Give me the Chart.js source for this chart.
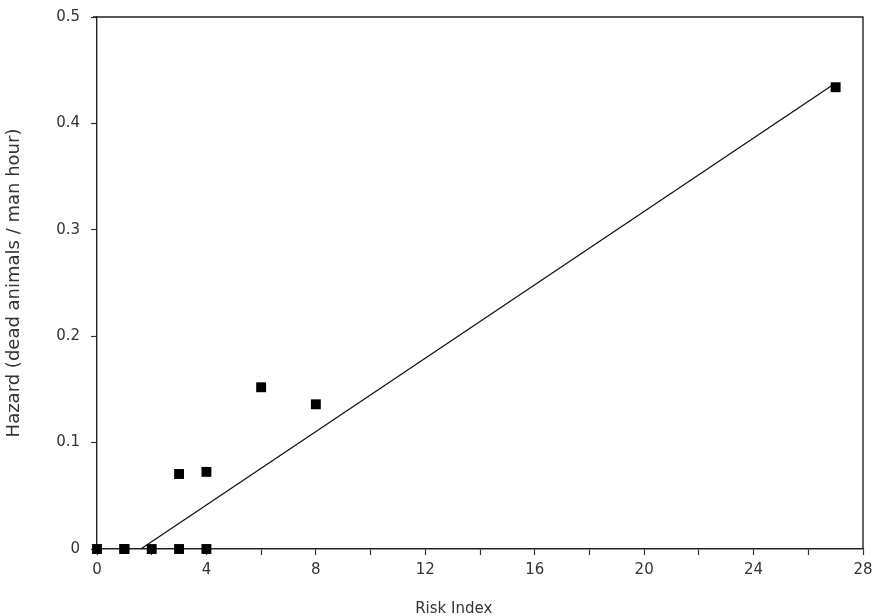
<!DOCTYPE html>
<html>
<head>
<meta charset="utf-8">
<script src="https://cdn.jsdelivr.net/npm/chart.js@4.4.1/dist/chart.umd.min.js"></script>
<style>
  html, body { margin: 0; padding: 0; background: #fff; }
  #wrap { width: 873px; height: 616px; position: relative; }
</style>
</head>
<body>
<div id="wrap"><canvas id="c" width="873" height="616"></canvas></div>
<script>
// Observed data: Risk Index vs Hazard
const riskIndex = [0, 1, 1, 2, 3, 4, 3, 4, 6, 8, 27];
const hazard    = [0, 0, 0, 0, 0, 0, 0.0705, 0.0725, 0.152, 0.136, 0.434];

// Fitted line end points
const fitX = [1.6, 27];
const fitY = [0, 0.438];

const xTitle = 'Risk Index';
const yTitle = 'Hazard (dead animals / man hour)';

const points = riskIndex.map((x, i) => ({ x: x, y: hazard[i] }));
const fit = fitX.map((x, i) => ({ x: x, y: fitY[i] }));

const frame = {
  id: 'frame',
  afterDraw(chart) {
    const { ctx, chartArea: a } = chart;
    ctx.save();
    ctx.strokeStyle = '#222';
    ctx.lineWidth = 1.4;
    ctx.beginPath();
    ctx.moveTo(a.left - 4, a.top);
    ctx.lineTo(a.right, a.top);
    ctx.lineTo(a.right, a.bottom);
    ctx.stroke();
    ctx.restore();
  }
};

const fontFamily = '"DejaVu Sans", sans-serif';

new Chart(document.getElementById('c'), {
  type: 'scatter',
  data: {
    datasets: [
      {
        type: 'line',
        data: fit,
        borderColor: '#111',
        borderWidth: 1.3,
        pointRadius: 0,
        fill: false,
        clip: false,
        order: 2
      },
      {
        data: points,
        pointStyle: 'rect',
        pointRadius: 7,
        pointHoverRadius: 7,
        backgroundColor: '#000',
        borderColor: '#000',
        borderWidth: 0,
        clip: false,
        order: 1
      }
    ]
  },
  options: {
    responsive: false,
    animation: false,
    devicePixelRatio: 1,
    layout: { padding: { top: 17, right: 10, left: 0, bottom: 0 } },
    plugins: { legend: { display: false }, tooltip: { enabled: false } },
    scales: {
      x: {
        type: 'linear',
        min: 0, max: 28,
        afterFit(s) { s.height = 67; s.paddingLeft = 0; s.paddingRight = 0; },
        ticks: {
          stepSize: 2,
          color: '#333',
          font: { family: fontFamily, size: 15 },
          padding: 6,
          maxRotation: 0,
          callback: v => (v % 4 === 0 ? String(v) : '')
        },
        grid: { drawOnChartArea: false, drawTicks: true, tickLength: 6, color: '#333', tickWidth: 1.2 },
        border: { display: true, color: '#222', width: 1.4 },
        title: {
          display: true,
          text: xTitle + '\u00A0'.repeat(11),
          color: '#333',
          font: { family: fontFamily, size: 15 },
          padding: { top: 0, bottom: -2 }
        }
      },
      y: {
        type: 'linear',
        min: 0, max: 0.5,
        afterFit(s) { s.width = 97; s.paddingTop = 0; s.paddingBottom = 0; },
        ticks: {
          stepSize: 0.1,
          color: '#333',
          font: { family: fontFamily, size: 15 },
          padding: 11,
          callback: v => (Math.abs(v) < 1e-9 ? '0' : String(Math.round(v * 10) / 10))
        },
        grid: { drawOnChartArea: false, drawTicks: true, tickLength: 6, color: '#333', tickWidth: 1.2 },
        border: { display: true, color: '#222', width: 1.4 },
        title: {
          display: true,
          text: yTitle,
          color: '#333',
          font: { family: fontFamily, size: 18 },
          padding: { top: 4, bottom: 0 }
        }
      }
    }
  },
  plugins: [frame]
});
</script>
</body>
</html>
